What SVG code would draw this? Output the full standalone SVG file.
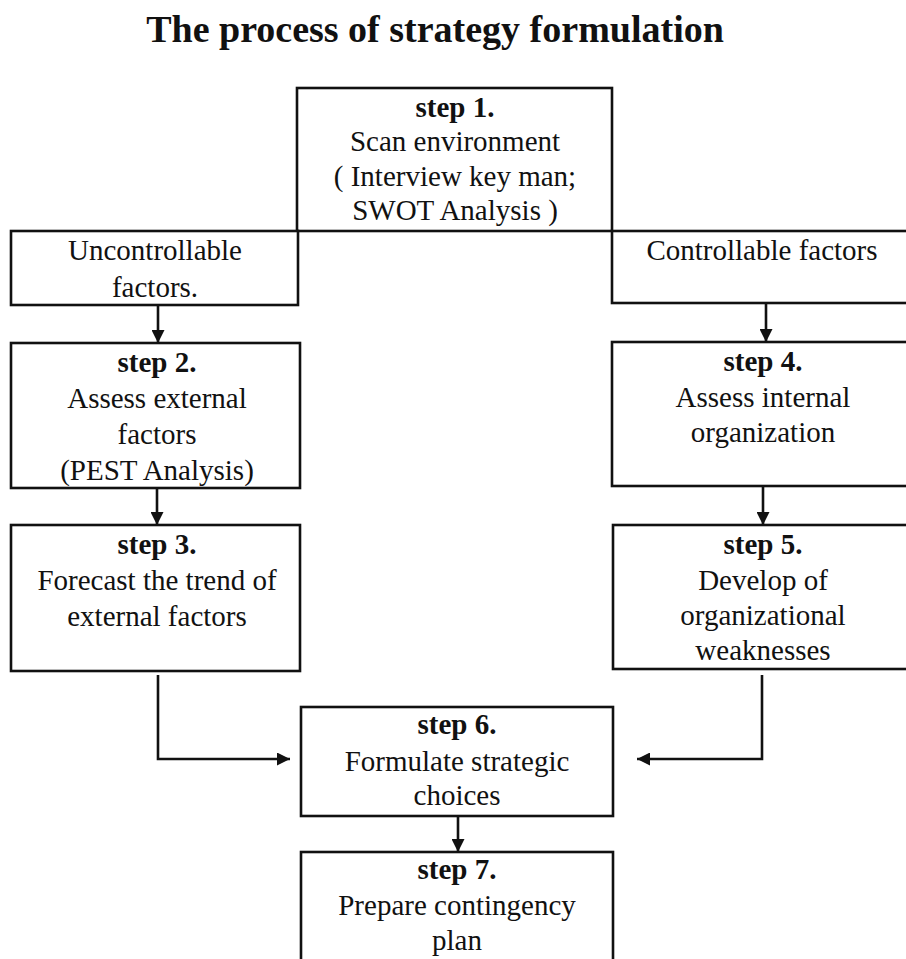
<svg xmlns="http://www.w3.org/2000/svg" width="906" height="959" viewBox="0 0 906 959">
  <style>
    .box { fill: #ffffff; stroke: #111111; stroke-width: 2.6; }
    .t { font-family: "Liberation Serif", "Times New Roman", serif; font-size: 29px; fill: #111111; text-anchor: middle; }
    .b { font-weight: bold; }
    .title { font-family: "Liberation Serif", "Times New Roman", serif; font-size: 38px; font-weight: bold; fill: #111111; text-anchor: middle; }
    .conn { fill: none; stroke: #111111; stroke-width: 2.6; }
  </style>
  <defs>
    <marker id="arr" markerUnits="userSpaceOnUse" markerWidth="15" markerHeight="13" refX="13" refY="6.5" orient="auto">
      <path d="M0,0 L13,6.5 L0,13 Z" fill="#111111"/>
    </marker>
  </defs>
  <rect width="906" height="959" fill="#ffffff"/>
  <text class="title" x="435" y="42">The process of strategy formulation</text>

  <g id="step1">
    <rect class="box" x="297" y="88" width="315" height="143"/>
    <text class="t b" x="455" y="117">step 1.</text>
    <text class="t" x="455" y="151">Scan environment</text>
    <text class="t" x="455" y="186">( Interview key man;</text>
    <text class="t" x="455" y="220">SWOT Analysis )</text>
  </g>
  <g id="uncontrollable">
    <rect class="box" x="11" y="231" width="287" height="74"/>
    <text class="t" x="155" y="260">Uncontrollable</text>
    <text class="t" x="155" y="297">factors.</text>
  </g>
  <g id="controllable">
    <rect class="box" x="612" y="231" width="310" height="72"/>
    <text class="t" x="762" y="260">Controllable factors</text>
  </g>
  <g id="step2">
    <rect class="box" x="11" y="343" width="289" height="145"/>
    <text class="t b" x="157" y="372">step 2.</text>
    <text class="t" x="157" y="408">Assess external</text>
    <text class="t" x="157" y="444">factors</text>
    <text class="t" x="157" y="480">(PEST Analysis)</text>
  </g>
  <g id="step3">
    <rect class="box" x="11" y="525" width="289" height="146"/>
    <text class="t b" x="157" y="554">step 3.</text>
    <text class="t" x="157" y="590">Forecast the trend of</text>
    <text class="t" x="157" y="626">external factors</text>
  </g>
  <g id="step4">
    <rect class="box" x="612" y="342" width="310" height="144"/>
    <text class="t b" x="763" y="371">step 4.</text>
    <text class="t" x="763" y="407">Assess internal</text>
    <text class="t" x="763" y="442">organization</text>
  </g>
  <g id="step5">
    <rect class="box" x="613" y="525" width="310" height="144"/>
    <text class="t b" x="763" y="554">step 5.</text>
    <text class="t" x="763" y="590">Develop of</text>
    <text class="t" x="763" y="625">organizational</text>
    <text class="t" x="763" y="660">weaknesses</text>
  </g>
  <g id="step6">
    <rect class="box" x="301" y="707" width="312" height="109"/>
    <text class="t b" x="457" y="734">step 6.</text>
    <text class="t" x="457" y="771">Formulate strategic</text>
    <text class="t" x="457" y="805">choices</text>
  </g>
  <g id="step7">
    <rect class="box" x="301" y="852" width="312" height="120"/>
    <text class="t b" x="457" y="879">step 7.</text>
    <text class="t" x="457" y="915">Prepare contingency</text>
    <text class="t" x="457" y="950">plan</text>
  </g>

  <g id="connectors">
    <line class="conn" x1="158" y1="305" x2="158" y2="343" marker-end="url(#arr)"/>
    <line class="conn" x1="157" y1="488" x2="157" y2="525" marker-end="url(#arr)"/>
    <line class="conn" x1="766" y1="303" x2="766" y2="342" marker-end="url(#arr)"/>
    <line class="conn" x1="763" y1="486" x2="763" y2="525" marker-end="url(#arr)"/>
    <polyline class="conn" points="158,675 158,759 290,759" marker-end="url(#arr)"/>
    <polyline class="conn" points="762,675 762,759 637,759" marker-end="url(#arr)"/>
    <line class="conn" x1="458" y1="816" x2="458" y2="852" marker-end="url(#arr)"/>
  </g>
</svg>
